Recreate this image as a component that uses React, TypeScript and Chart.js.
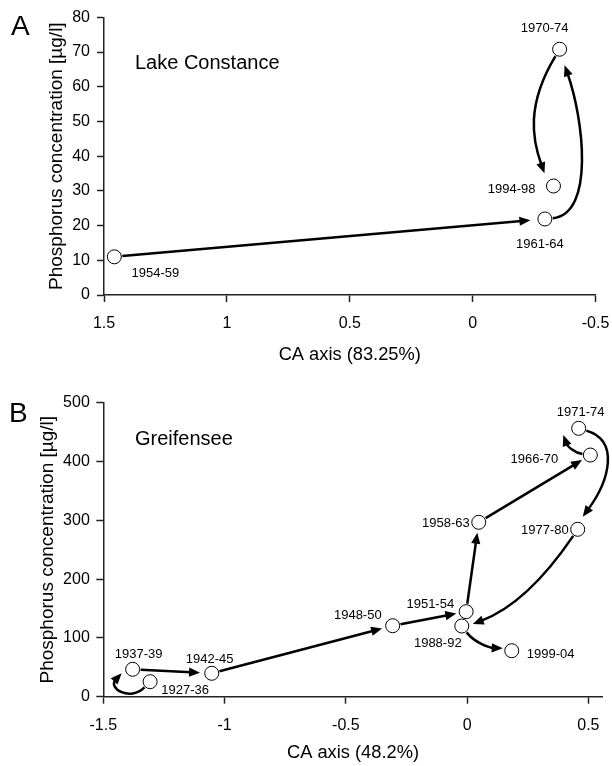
import React, { useEffect, useRef } from 'react';
import { Chart, registerables } from 'chart.js';

Chart.register(...registerables);

const FONT = "'Liberation Sans', Arial, Helvetica, sans-serif";

// ---------- Panel A: Lake Constance ----------
const lcPeriods = ['1954-59', '1961-64', '1970-74', '1994-98'];
const lcCA = [1.458, -0.294, -0.354, -0.329];
const lcP = [11.0, 21.9, 70.8, 31.4];
const lcXTicks = [1.5, 1, 0.5, 0, -0.5];
const lcYTicks = [0, 10, 20, 30, 40, 50, 60, 70, 80];

// ---------- Panel B: Greifensee ----------
const gsPeriods = ['1927-36', '1937-39', '1942-45', '1948-50', '1951-54', '1958-63', '1966-70', '1971-74', '1977-80', '1988-92', '1999-04'];
const gsCA = [-1.307, -1.379, -1.053, -0.307, -0.004, 0.048, 0.508, 0.46, 0.456, -0.022, 0.184];
const gsP = [25.5, 46.6, 39.8, 120.7, 144.6, 296.6, 411, 456.4, 284.7, 120.2, 78.2];
const gsXTicks = [-1.5, -1, -0.5, 0, 0.5];
const gsYTicks = [0, 100, 200, 300, 400, 500];

// label placement relative to the point, in pixels: [dx, dy, align]
type Align = 'left' | 'right' | 'center';
const lcLabelPos: [number, number, Align][] = [
  [41, 17, 'center'],
  [-5, 25, 'center'],
  [-15, -21, 'center'],
  [-18, 3, 'right'],
];
const gsLabelPos: [number, number, Align][] = [
  [35, 9, 'center'],
  [6, -15, 'center'],
  [-2, -14, 'center'],
  [-11, -10, 'right'],
  [-12, -7, 'right'],
  [-9, 1, 'right'],
  [-32, 4, 'right'],
  [2, -16, 'center'],
  [-9, 1, 'right'],
  [-24, 17, 'center'],
  [15, 4, 'left'],
];

// arrow shape for segment i -> i+1 (pixels): c1 relative to start point,
// c2 and tip relative to end point; otherwise a straight arrow with a gap.
type ArrowSpec = { c1?: [number, number]; c2?: [number, number]; tip?: [number, number]; gap?: number };
const lcArrows: ArrowSpec[] = [
  { gap: 14.5 },
  { c1: [50, -5], c2: [24, 70], tip: [5, 16] },
  { c1: [-34, 56], c2: [-21, -46], tip: [-9, -12.7] },
];
const gsArrows: ArrowSpec[] = [
  { c1: [-20, 20], c2: [-25, 19], tip: [-11, 4] },
  { gap: 11.7 },
  { gap: 10.9 },
  { gap: 10 },
  { gap: 10.6 },
  { gap: 9.7 },
  { c1: [-16, -2], c2: [-11.4, 17.7], tip: [-15.4, 6.7] },
  { c1: [41, 12], c2: [32, -49], tip: [5, -12.6] },
  { c1: [-38, 56], c2: [48, -16], tip: [11, -2] },
  { c1: [13, 17], c2: [-22, -3], tip: [-9, -2.4] },
];

type PanelSpec = {
  letter: string;
  letterPos: [number, number];
  lake: string;
  lakePos: [number, number];
  periods: string[];
  xs: number[];
  ys: number[];
  xTicks: number[];
  yTicks: number[];
  xMin: number;
  xMax: number;
  yMin: number;
  yMax: number;
  reverse: boolean;
  xTitle: string;
  labelPos: [number, number, Align][];
  arrows: ArrowSpec[];
  canvasH: number;
  padding: { top: number; right: number };
  yAxisWidth: number;
  xAxisHeight: number;
  yTitlePad: number;
  xTitlePad: number;
  yTickPad: number;
};

const unit = (dx: number, dy: number): [number, number] => {
  const l = Math.hypot(dx, dy) || 1;
  return [dx / l, dy / l];
};

function makeOverlay(spec: PanelSpec) {
  return {
    id: 'overlay' + spec.letter,
    beforeDatasetsDraw(chart: any) {
      const { ctx } = chart;
      const sx = chart.scales.x;
      const sy = chart.scales.y;
      const pts = spec.xs.map((x, i) => [sx.getPixelForValue(x), sy.getPixelForValue(spec.ys[i])]);
      ctx.save();
      ctx.strokeStyle = '#000';
      ctx.fillStyle = '#000';
      ctx.lineWidth = 2.5;
      ctx.lineCap = 'butt';
      ctx.lineJoin = 'round';
      const headL = 11;
      const headW = 4.6;
      spec.arrows.forEach((a, i) => {
        const [ax, ay] = pts[i];
        const [bx, by] = pts[i + 1];
        let tipX: number, tipY: number, dir: [number, number];
        ctx.beginPath();
        if (a.c1 && a.c2 && a.tip) {
          const u1 = unit(a.c1[0], a.c1[1]);
          const sX = ax + u1[0] * 8;
          const sY = ay + u1[1] * 8;
          const p1x = ax + a.c1[0], p1y = ay + a.c1[1];
          const p2x = bx + a.c2[0], p2y = by + a.c2[1];
          tipX = bx + a.tip[0];
          tipY = by + a.tip[1];
          dir = unit(tipX - p2x, tipY - p2y);
          const eX = tipX - dir[0] * headL * 0.8;
          const eY = tipY - dir[1] * headL * 0.8;
          ctx.moveTo(sX, sY);
          ctx.bezierCurveTo(p1x, p1y, p2x, p2y, eX, eY);
        } else {
          const u = unit(bx - ax, by - ay);
          const sX = ax + u[0] * 8;
          const sY = ay + u[1] * 8;
          const g = a.gap ?? 10;
          tipX = bx - u[0] * g;
          tipY = by - u[1] * g;
          dir = u;
          ctx.moveTo(sX, sY);
          ctx.lineTo(tipX - dir[0] * headL * 0.8, tipY - dir[1] * headL * 0.8);
        }
        ctx.stroke();
        const bX = tipX - dir[0] * headL;
        const bY = tipY - dir[1] * headL;
        ctx.beginPath();
        ctx.moveTo(tipX, tipY);
        ctx.lineTo(bX - dir[1] * headW, bY + dir[0] * headW);
        ctx.lineTo(bX + dir[1] * headW, bY - dir[0] * headW);
        ctx.closePath();
        ctx.fill();
      });
      ctx.restore();
    },
    afterDatasetsDraw(chart: any) {
      const { ctx } = chart;
      const sx = chart.scales.x;
      const sy = chart.scales.y;
      ctx.save();
      ctx.fillStyle = '#000';
      ctx.font = `13px ${FONT}`;
      ctx.textBaseline = 'middle';
      spec.periods.forEach((p, i) => {
        const px = sx.getPixelForValue(spec.xs[i]);
        const py = sy.getPixelForValue(spec.ys[i]);
        const [dx, dy, al] = spec.labelPos[i];
        ctx.textAlign = al;
        ctx.fillText(p, px + dx, py + dy);
      });
      ctx.restore();
    },
    afterDraw(chart: any) {
      const { ctx } = chart;
      ctx.save();
      ctx.fillStyle = '#000';
      ctx.textBaseline = 'alphabetic';
      ctx.textAlign = 'left';
      ctx.font = `28px ${FONT}`;
      ctx.fillText(spec.letter, spec.letterPos[0], spec.letterPos[1]);
      ctx.font = `20px ${FONT}`;
      ctx.fillText(spec.lake, spec.lakePos[0], spec.lakePos[1]);
      ctx.restore();
    },
  };
}

const fmt = (v: any) => String(Math.round(Number(v) * 100) / 100);

function Panel({ spec, top }: { spec: PanelSpec; top: number }) {
  const ref = useRef<HTMLCanvasElement>(null);
  useEffect(() => {
    if (!ref.current) return;
    const axisColor = '#222';
    const chart = new Chart(ref.current, {
      type: 'scatter',
      data: {
        datasets: [
          {
            data: spec.xs.map((x, i) => ({ x, y: spec.ys[i] })),
            pointRadius: 7,
            pointHoverRadius: 7,
            pointBackgroundColor: '#fff',
            pointBorderColor: '#000',
            pointBorderWidth: 1,
            showLine: false,
          },
        ],
      },
      options: {
        animation: false,
        responsive: false,
        devicePixelRatio: 1,
        events: [],
        layout: { padding: { top: spec.padding.top, right: spec.padding.right, left: 0, bottom: 0 } },
        plugins: { legend: { display: false }, tooltip: { enabled: false } },
        scales: {
          x: {
            type: 'linear',
            reverse: spec.reverse,
            min: spec.xMin,
            max: spec.xMax,
            afterBuildTicks: (s: any) => {
              s.ticks = spec.xTicks.map((v) => ({ value: v }));
            },
            afterFit: (s: any) => {
              s.height = spec.xAxisHeight;
              s.paddingLeft = 0;
              s.paddingRight = 0;
            },
            ticks: { color: '#000', font: { size: 16, family: FONT }, padding: 12, callback: fmt, maxRotation: 0, autoSkip: false },
            grid: { display: true, drawOnChartArea: false, drawTicks: true, tickLength: 7, tickColor: axisColor, tickWidth: 1.5 },
            border: { display: true, color: axisColor, width: 1.5 },
            title: {
              display: true,
              text: spec.xTitle,
              color: '#000',
              font: { size: 18.3, family: FONT },
              padding: { top: 0, bottom: spec.xTitlePad },
            },
          },
          y: {
            type: 'linear',
            min: spec.yMin,
            max: spec.yMax,
            afterBuildTicks: (s: any) => {
              s.ticks = spec.yTicks.map((v) => ({ value: v }));
            },
            afterFit: (s: any) => {
              s.width = spec.yAxisWidth;
              s.paddingTop = 0;
              s.paddingBottom = 0;
            },
            ticks: { color: '#000', font: { size: 16, family: FONT }, padding: spec.yTickPad, callback: fmt, autoSkip: false },
            grid: { display: true, drawOnChartArea: false, drawTicks: true, tickLength: 7, tickColor: axisColor, tickWidth: 1.5 },
            border: { display: true, color: axisColor, width: 1.5 },
            title: {
              display: true,
              text: 'Phosphorus concentration [µg/l]',
              color: '#000',
              font: { size: 19, family: FONT },
              padding: { top: spec.yTitlePad, bottom: 0 },
            },
          },
        },
      },
      plugins: [makeOverlay(spec)],
    } as any);
    return () => chart.destroy();
  }, [spec]);
  return (
    <div style={{ position: 'absolute', left: 0, top, width: 612, height: spec.canvasH }}>
      <canvas ref={ref} width={612} height={spec.canvasH} style={{ display: 'block', width: 612, height: spec.canvasH }} />
    </div>
  );
}

const specA: PanelSpec = {
  letter: 'A',
  letterPos: [11, 35],
  lake: 'Lake Constance',
  lakePos: [135, 68.5],
  periods: lcPeriods,
  xs: lcCA,
  ys: lcP,
  xTicks: lcXTicks,
  yTicks: lcYTicks,
  xMin: -0.5,
  xMax: 1.5,
  yMin: 0,
  yMax: 80,
  reverse: true,
  xTitle: 'CA axis (83.25%)',
  labelPos: lcLabelPos,
  arrows: lcArrows,
  canvasH: 375,
  padding: { top: 17.3, right: 16.5 },
  yAxisWidth: 104,
  xAxisHeight: 80,
  yTitlePad: 45,
  xTitlePad: 9,
  yTickPad: 7,
};

const specB: PanelSpec = {
  letter: 'B',
  letterPos: [9, 47],
  lake: 'Greifensee',
  lakePos: [135, 70],
  periods: gsPeriods,
  xs: gsCA,
  ys: gsP,
  xTicks: gsXTicks,
  yTicks: gsYTicks,
  xMin: -1.5,
  xMax: 0.559,
  yMin: 0,
  yMax: 500,
  reverse: false,
  xTitle: 'CA axis (48.2%)',
  labelPos: gsLabelPos,
  arrows: gsArrows,
  canvasH: 391,
  padding: { top: 27.7, right: 9.3 },
  yAxisWidth: 103.3,
  xAxisHeight: 69.3,
  yTitlePad: 36.3,
  xTitlePad: 2,
  yTickPad: 6.5,
};

export default function App() {
  return (
    <div style={{ position: 'absolute', left: 0, top: 0, width: 612, height: 766, background: '#fff' }}>
      <Panel spec={specA} top={0} />
      <Panel spec={specB} top={375} />
    </div>
  );
}
